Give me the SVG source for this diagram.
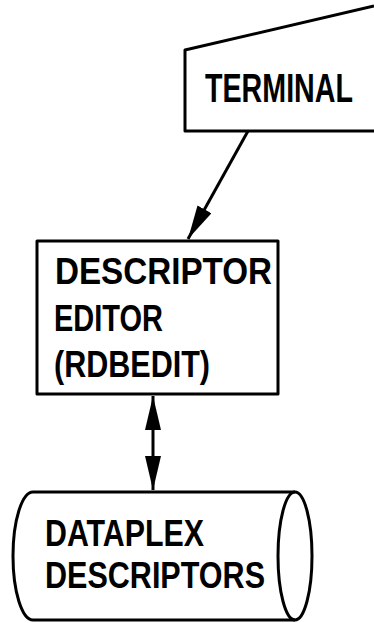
<svg xmlns="http://www.w3.org/2000/svg" width="374" height="623" viewBox="0 0 374 623">
<style>
.s{fill:none;stroke:#000;stroke-width:3;stroke-linejoin:round}
.t{font-family:"Liberation Sans",Arial,sans-serif;font-weight:bold;fill:#000}
</style>
<defs>
<marker id="ah" viewBox="0 0 34 16" refX="34" refY="8" markerWidth="34" markerHeight="16" markerUnits="userSpaceOnUse" orient="auto-start-reverse">
<path d="M0,0 L34,8 L0,16 Z" fill="#000"/>
</marker>
</defs>
<rect width="374" height="623" fill="#fff"/>
<g id="terminal">
<path class="s" d="M374,6 L185,50 L185,131 L374,131"/>
<text class="t" x="205" y="102" font-size="40" textLength="148" lengthAdjust="spacingAndGlyphs">TERMINAL</text>
</g>
<g id="editor">
<rect class="s" x="37" y="241" width="241" height="153"/>
<text class="t" x="55" y="284" font-size="37" textLength="217" lengthAdjust="spacingAndGlyphs">DESCRIPTOR</text>
<text class="t" x="54" y="331" font-size="37" textLength="109" lengthAdjust="spacingAndGlyphs">EDITOR</text>
<text class="t" x="54" y="377" font-size="37" textLength="156" lengthAdjust="spacingAndGlyphs">(RDBEDIT)</text>
</g>
<g id="descriptors">
<path class="s" d="M33,492 L295,492 M33,620 L295,620 M33,492 A20,64 0 0 0 33,620"/>
<ellipse class="s" cx="295" cy="556" rx="17" ry="64"/>
<text class="t" x="45" y="546" font-size="36" textLength="159" lengthAdjust="spacingAndGlyphs">DATAPLEX</text>
<text class="t" x="45" y="588" font-size="36" textLength="220" lengthAdjust="spacingAndGlyphs">DESCRIPTORS</text>
</g>
<g id="connectors">
<line class="s" x1="248" y1="131" x2="188" y2="239" marker-end="url(#ah)"/>
<line class="s" x1="153" y1="396" x2="153" y2="490" marker-start="url(#ah)" marker-end="url(#ah)"/>
</g>
</svg>
